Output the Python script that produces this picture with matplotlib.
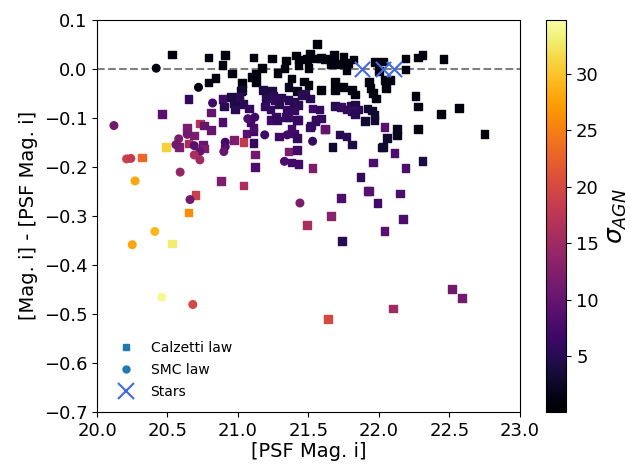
import numpy as np
import matplotlib
matplotlib.use("Agg")
import matplotlib.pyplot as plt
from matplotlib.lines import Line2D

# ---- Calzetti law (squares): x, y, sigma_AGN ----
calz_x = [20.53, 20.79, 20.91, 20.89, 20.96, 20.84, 20.79, 21.03, 21.02, 21.56,
          21.11, 21.24, 21.34, 21.41, 21.43, 21.51, 21.49, 21.55, 21.59, 21.62,
          21.68, 21.75, 21.82, 21.66, 21.72, 21.78, 21.43, 21.50, 21.17, 21.33,
          21.28, 21.13, 21.10, 21.13, 21.38, 21.47, 21.50, 21.42, 21.59, 21.69,
          21.69, 21.75, 21.77, 21.81, 21.83, 21.93, 21.94, 21.96, 21.98, 21.97,
          22.03, 22.00, 22.04, 22.08, 22.05, 22.19, 22.28, 22.31, 22.46, 22.19,
          22.26, 22.28, 22.44, 22.57, 22.28, 22.75, 22.13, 22.13, 22.06, 22.04,
          22.03, 22.11, 22.31, 22.19, 22.15, 21.92, 21.97, 21.95, 21.90, 21.97,
          20.65, 20.89, 20.90, 20.95, 20.97, 20.98, 21.01, 20.81, 20.46, 20.89,
          20.73, 20.76, 20.81, 20.64, 20.69, 20.58, 20.65, 20.75, 20.76, 20.97,
          21.04, 21.12, 21.12, 20.88, 21.04, 20.32, 20.49, 20.70, 20.65, 20.53,
          21.49, 21.73, 21.93, 21.99, 21.66, 22.17, 22.04, 21.74, 22.52, 22.59,
          22.10, 21.64, 21.03, 21.01, 21.18, 21.24, 21.25, 21.20, 21.31, 21.26,
          21.19, 21.29, 21.45, 21.48, 21.51, 21.53, 21.58, 21.40, 21.43, 21.40,
          21.36, 21.35, 21.04, 21.08, 21.69, 21.73, 21.77, 21.80, 21.83, 21.85,
          21.81, 21.83, 21.59, 21.55, 21.51, 21.43, 21.36, 21.38, 21.40, 21.42,
          21.42, 21.34, 21.28, 21.52, 21.55, 21.62, 21.72, 21.77, 21.67, 21.81,
          22.02, 21.36, 21.42, 21.38, 21.43, 21.53, 21.96, 21.87, 21.92, 21.06,
          21.11, 21.11, 21.29, 21.62, 21.11, 21.09, 21.23, 21.23, 21.27, 21.36]
calz_y = [0.029, 0.023, 0.028, 0.008, -0.010, -0.019, -0.028, -0.029, -0.045, 0.050,
          0.023, 0.021, 0.017, 0.027, 0.019, 0.031, 0.020, 0.021, 0.022, 0.020,
          0.028, 0.024, 0.019, 0.009, 0.009, 0.011, 0.007, 0.001, 0.001, 0.000,
          -0.009, -0.011, -0.017, -0.027, -0.020, -0.026, -0.033, -0.045, -0.044, -0.026,
          -0.044, -0.037, -0.003, -0.044, -0.053, -0.027, -0.040, -0.049, -0.061, 0.014,
          0.015, -0.005, -0.023, -0.023, -0.040, 0.021, 0.023, 0.028, 0.020, -0.002,
          -0.056, -0.077, -0.092, -0.080, -0.123, -0.133, -0.123, -0.136, -0.142, -0.119,
          -0.160, -0.172, -0.188, -0.203, -0.255, -0.081, -0.095, -0.085, -0.107, -0.105,
          -0.062, -0.062, -0.077, -0.058, -0.070, -0.083, -0.066, -0.089, -0.092, -0.109,
          -0.112, -0.116, -0.125, -0.121, -0.136, -0.160, -0.153, -0.155, -0.163, -0.145,
          -0.149, -0.175, -0.200, -0.229, -0.238, -0.181, -0.160, -0.258, -0.293, -0.357,
          -0.319, -0.264, -0.250, -0.274, -0.300, -0.307, -0.331, -0.352, -0.449, -0.468,
          -0.489, -0.511, -0.044, -0.058, -0.043, -0.045, -0.056, -0.061, -0.059, -0.064,
          -0.077, -0.073, -0.054, -0.052, -0.061, -0.081, -0.083, -0.068, -0.074, -0.085,
          -0.064, -0.083, -0.072, -0.081, -0.076, -0.078, -0.083, -0.076, -0.074, -0.083,
          -0.086, -0.093, -0.102, -0.105, -0.120, -0.105, -0.098, -0.123, -0.132, -0.142,
          -0.105, -0.099, -0.106, -0.116, -0.107, -0.124, -0.134, -0.138, -0.160, -0.155,
          -0.161, -0.169, -0.166, -0.191, -0.194, -0.203, -0.191, -0.221, -0.249, -0.132,
          -0.128, -0.152, -0.138, -0.123, -0.120, -0.110, -0.105, -0.083, -0.098, -0.037]
calz_sigma = [1, 1, 1, 1, 1, 1, 1, 1, 2, 1,
              1, 1, 1, 1, 1, 1, 1, 1, 1, 1,
              1, 1, 1, 1, 1, 1, 1, 1, 1, 1,
              1, 1, 1, 1, 1, 1, 1, 2, 1, 1,
              1, 1, 1, 1, 1, 1, 1, 1, 1, 1,
              1, 1, 1, 1, 1, 1, 1, 1, 1, 1,
              1, 1, 1, 1, 1, 1, 2, 2, 3, 9,
              3, 8, 4, 8, 8, 3, 3, 3, 3, 3,
              6, 7, 5, 4, 4, 5, 4, 10, 9, 8,
              17, 10, 10, 12, 12, 12, 16, 10, 12, 12,
              18, 11, 8, 12, 16, 23, 31, 19, 26, 33,
              16, 8, 9, 7, 13, 8, 9, 5, 11, 11,
              15, 20, 3, 5, 4, 4, 5, 5, 5, 6,
              6, 5, 5, 5, 5, 7, 6, 5, 5, 6,
              5, 6, 5, 6, 5, 6, 6, 5, 4, 5,
              6, 5, 6, 6, 7, 7, 7, 7, 7, 6,
              6, 6, 6, 6, 6, 6, 5, 5, 3, 4,
              3, 12, 7, 7, 7, 12, 8, 6, 9, 9,
              7, 6, 7, 10, 8, 7, 7, 6, 6, 2]

# ---- SMC law (circles): x, y, sigma_AGN ----
smc_x = [20.42, 20.72, 20.82, 20.12, 20.64, 20.58, 20.56, 20.69, 20.73, 20.69,
         20.73, 20.91, 20.91, 20.90, 20.59, 20.21, 20.24, 20.27, 20.66, 20.41,
         20.25, 20.46, 20.68, 21.44, 21.19, 21.35, 21.53, 21.33, 21.07, 21.12]
smc_y = [0.001, -0.038, -0.070, -0.116, -0.134, -0.143, -0.155, -0.157, -0.169, -0.176,
         -0.186, -0.150, -0.159, -0.169, -0.211, -0.184, -0.183, -0.229, -0.267, -0.332,
         -0.359, -0.466, -0.481, -0.274, -0.135, -0.135, -0.148, -0.189, -0.102, -0.099]
smc_sigma = [1, 1, 7, 11, 11, 12, 11, 9, 10, 16,
             15, 7, 8, 10, 14, 19, 18, 28, 11, 29,
             28, 34, 20, 12, 7, 7, 6, 8, 8, 7]

# ---- Stars ----
star_x = [21.88, 22.03, 22.11]
star_y = [0.0, 0.0, 0.0]

vmin, vmax = 0.06, 34.8

fig = plt.figure(figsize=(6.3, 4.68), dpi=100)
ax = fig.add_axes([0.154, 0.12, 0.671, 0.838])
cax = fig.add_axes([0.867, 0.12, 0.032, 0.838])

ax.axhline(0.0, color='gray', linestyle='--', linewidth=1.5, zorder=1)
sc = ax.scatter(calz_x, calz_y, c=calz_sigma, cmap='inferno', vmin=vmin, vmax=vmax,
                marker='s', s=30, zorder=2)
ax.scatter(smc_x, smc_y, c=smc_sigma, cmap='inferno', vmin=vmin, vmax=vmax,
           marker='o', s=30, zorder=2)
ax.scatter(star_x, star_y, color='royalblue', marker='x', s=120, linewidths=1.5, zorder=3)

ax.set_xlim(20.0, 23.0)
ax.set_ylim(-0.7, 0.1)
ax.set_xticks(np.arange(20.0, 23.01, 0.5))
ax.set_yticks(np.arange(-0.7, 0.101, 0.1))
ax.tick_params(labelsize=13)
ax.set_xlabel('[PSF Mag. i]', fontsize=14, labelpad=2)
ax.set_ylabel('[Mag. i] - [PSF Mag. i]', fontsize=14)

cb = fig.colorbar(sc, cax=cax)
cb.set_ticks([5, 10, 15, 20, 25, 30])
cb.ax.tick_params(labelsize=13)
cb.set_label(r'$\sigma_{AGN}$', fontsize=18)

handles = [
    Line2D([], [], marker='s', color='C0', linestyle='None', markersize=5),
    Line2D([], [], marker='o', color='C0', linestyle='None', markersize=5),
    Line2D([], [], marker='x', color='royalblue', linestyle='None', markersize=11,
           markeredgewidth=1.5),
]
ax.legend(handles, ['Calzetti law', 'SMC law', 'Stars'], loc='lower left',
          frameon=False, fontsize=10, bbox_to_anchor=(0.005, 0.0),
          labelspacing=0.6)

fig.savefig('out.png', dpi=100)
